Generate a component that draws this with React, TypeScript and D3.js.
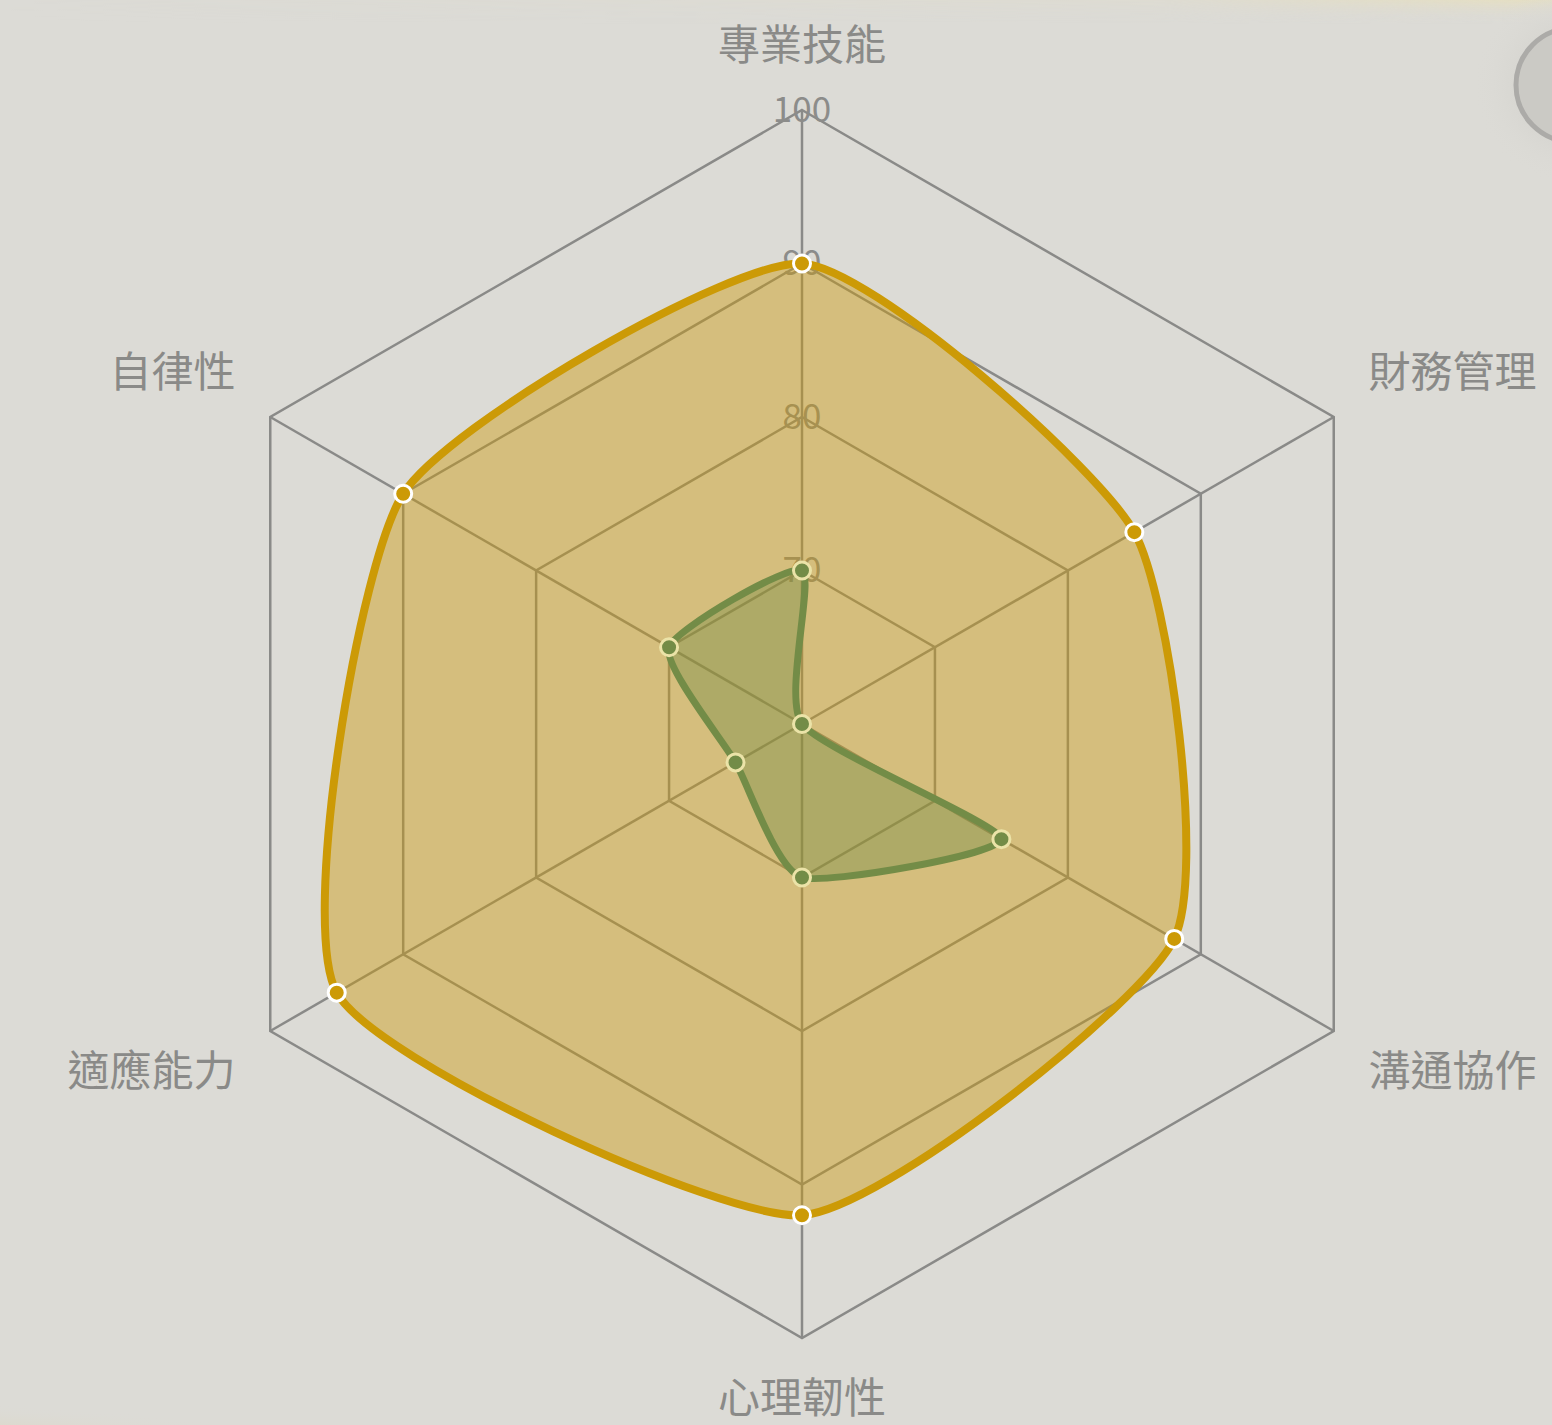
import { useMemo } from 'react';
import * as d3 from 'd3';

const axes = ['專業技能', '財務管理', '溝通協作', '心理韌性', '適應能力', '自律性'];
const goldValues = [90, 85, 88, 92, 95, 90];
const greenValues = [70, 60, 75, 70, 65, 70];
const ringTicks = [70, 80, 90, 100];
const tickLabels = ['70', '80', '90', '100'];

const W = 1552;
const H = 1425;
const cx = 802;
const cy = 724;
const R = 614;
const FONT = '"Noto Sans CJK TC", "Noto Sans", sans-serif';

export default function App() {
  const r = useMemo(() => d3.scaleLinear().domain([60, 100]).range([0, R]), []);
  const step = (2 * Math.PI) / axes.length;
  const ang = (i: number) => i * step;
  const pt = (i: number, rad: number): [number, number] => [
    cx + rad * Math.sin(ang(i)),
    cy - rad * Math.cos(ang(i)),
  ];

  const smooth = d3
    .lineRadial<number>()
    .angle((_, i) => ang(i))
    .radius((d) => r(d))
    .curve(d3.curveCardinalClosed.tension(0.43));

  const ring = d3
    .lineRadial<number>()
    .angle((_, i) => ang(i))
    .radius((d) => r(d))
    .curve(d3.curveLinearClosed);

  const labelR = 654;

  return (
    <svg
      width={W}
      height={H}
      style={{ position: 'absolute', left: 0, top: 0 }}
      fontFamily={FONT}
    >
      <defs>
        <linearGradient id="topTint" x1="0" y1="0" x2="0" y2="1">
          <stop offset="0" stopColor="#e6dfc0" stopOpacity="0.9" />
          <stop offset="1" stopColor="#dcdbd6" stopOpacity="0" />
        </linearGradient>
        <linearGradient id="topFade" x1="0" y1="0" x2="1" y2="0">
          <stop offset="0" stopColor="white" stopOpacity="0" />
          <stop offset="0.75" stopColor="white" stopOpacity="0.2" />
          <stop offset="1" stopColor="white" stopOpacity="1" />
        </linearGradient>
        <mask id="topMask">
          <rect x={0} y={0} width={W} height={24} fill="url(#topFade)" />
        </mask>
        <radialGradient id="botTint" cx="0" cy="1" r="1">
          <stop offset="0" stopColor="#dcd7c6" stopOpacity="1" />
          <stop offset="0.7" stopColor="#dcd8c8" stopOpacity="0.6" />
          <stop offset="1" stopColor="#dcdbd6" stopOpacity="0" />
        </radialGradient>
        <radialGradient id="btnGlow">
          <stop offset="0.6" stopColor="#d8d7d2" stopOpacity="1" />
          <stop offset="1" stopColor="#dcdbd6" stopOpacity="0" />
        </radialGradient>
      </defs>
      <rect x={0} y={0} width={W} height={H} fill="#dcdbd6" />
      <rect x={0} y={0} width={W} height={24} fill="url(#topTint)" mask="url(#topMask)" />
      <ellipse cx={0} cy={H} rx={330} ry={28} fill="url(#botTint)" />
      <circle cx={1573} cy={85} r={100} fill="url(#btnGlow)" />
      <circle cx={1573} cy={85} r={57} fill="#cbcac5" stroke="#acaba8" strokeWidth={5} />

      <g transform={`translate(${cx},${cy})`}>
        {ringTicks.map((t) => (
          <path
            key={t}
            d={ring(axes.map(() => t))!}
            fill="none"
            stroke="#8a8a88"
            strokeWidth={2.5}
          />
        ))}
      </g>
      {axes.map((a, i) => {
        const [x2, y2] = pt(i, r(100));
        return (
          <line key={a} x1={cx} y1={cy} x2={x2} y2={y2} stroke="#8a8a88" strokeWidth={2.5} />
        );
      })}
      {ringTicks.map((t, k) => (
        <text
          key={t}
          x={cx}
          y={cy - r(t) - 4}
          textAnchor="middle"
          dominantBaseline="central"
          fontSize={35}
          fill="#8c8c8a"
        >
          {tickLabels[k]}
        </text>
      ))}

      {axes.map((a, i) => {
        const [x, y] = pt(i, labelR);
        const s = Math.sin(ang(i));
        const c = Math.cos(ang(i));
        const anchor = Math.abs(s) < 0.01 ? 'middle' : s > 0 ? 'start' : 'end';
        const ty = c > 0.01 ? y - 10 : y + 35;
        return (
          <text key={a} x={x} y={ty} textAnchor={anchor} fontSize={42} fill="#8a8a88">
            {a}
          </text>
        );
      })}

      <g transform={`translate(${cx},${cy})`}>
        <path
          d={smooth(goldValues)!}
          fill="rgba(204,154,6,0.43)"
          stroke="#cc9a06"
          strokeWidth={8}
          strokeLinejoin="round"
        />
        <path
          d={smooth(greenValues)!}
          fill="rgba(115,140,71,0.4)"
          stroke="#738c47"
          strokeWidth={7}
          strokeLinejoin="round"
        />
      </g>
      {goldValues.map((v, i) => {
        const [x, y] = pt(i, r(v));
        return <circle key={`g${i}`} cx={x} cy={y} r={8.5} fill="#cc9a06" stroke="#ffffff" strokeWidth={3} />;
      })}
      {greenValues.map((v, i) => {
        const [x, y] = pt(i, r(v));
        return <circle key={`e${i}`} cx={x} cy={y} r={8.5} fill="#738c47" stroke="#ebe3a8" strokeWidth={3} />;
      })}
    </svg>
  );
}
